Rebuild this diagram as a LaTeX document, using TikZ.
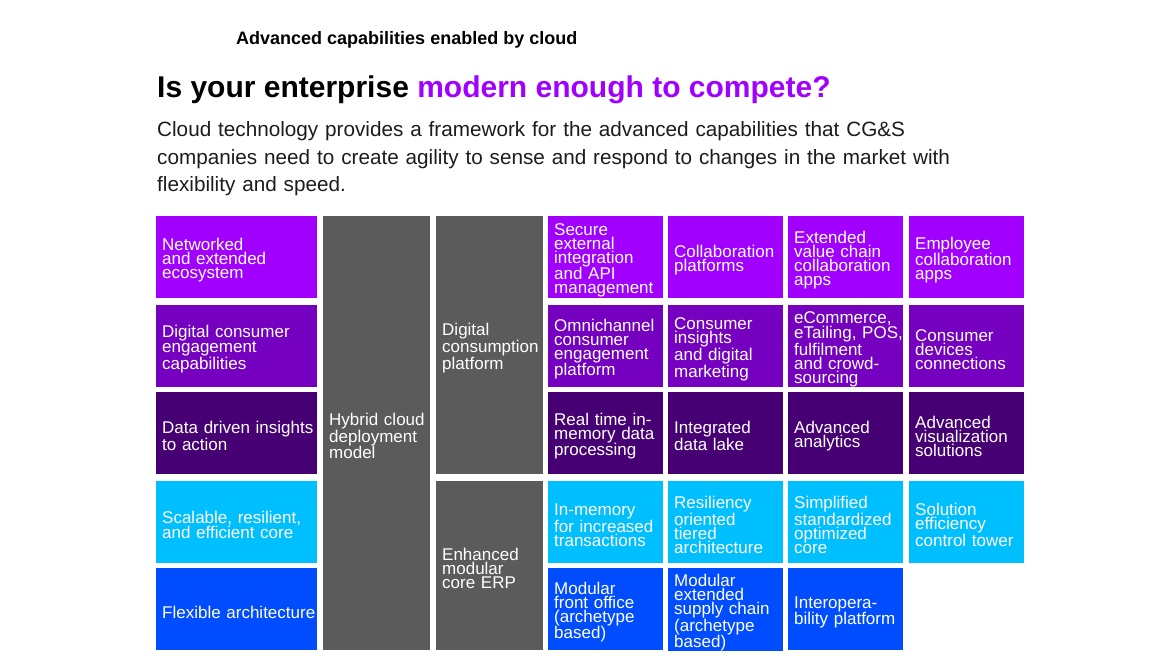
\documentclass[tikz,border=0pt]{standalone}
\usepackage{fontspec}
\setmainfont{Liberation Sans}
\hyphenpenalty=10000
\exhyphenpenalty=10000

\definecolor{brightpurple}{HTML}{A100FF}
\definecolor{midpurple}{HTML}{7500C0}
\definecolor{deeppurple}{HTML}{460073}
\definecolor{skyblue}{HTML}{00BFFF}
\definecolor{royalblue}{HTML}{004DFF}
\definecolor{slate}{HTML}{5B5B5B}
\definecolor{inktext}{HTML}{1C1C1C}

\begin{document}
\begin{tikzpicture}[x=1pt, y=-1pt,
  cell/.style={rectangle, anchor=north west, inner xsep=6pt, inner ysep=0pt,
    minimum width=115pt, minimum height=82pt, text width=103pt, align=left,
    text height=18pt, text=white, font=\fontsize{17}{14}\selectfont,
    execute at begin node={\rightskip=-10pt plus 1fil}},
  wide/.style={minimum width=161pt, text width=149pt},
  pillar/.style={cell, fill=slate, minimum width=107pt, text width=95pt}]

  \path[use as bounding box, fill=white] (0,0) rectangle (1173,666);

  % Titles
  \node[anchor=base west, inner sep=0pt, font=\bfseries\fontsize{18}{18}\selectfont] (kicker) at (236,45) {Advanced capabilities enabled by cloud};
  \node[anchor=base west, inner sep=0pt, font=\bfseries\fontsize{30}{30}\selectfont] (heading) at (157,98) {Is your enterprise \textcolor{brightpurple}{modern enough to compete?}};
  \node[anchor=base west, inner sep=0pt, text width=840pt, align=left, text=inktext, font=\fontsize{20.7}{27.5}\selectfont] (intro) at (157,137)
    {Cloud technology provides a framework for the advanced capabilities that CG\&S\\companies need to create agility to sense and respond to changes in the market with\\flexibility and speed.};

  % Pillars
  \node[pillar, minimum height=434pt] (hybrid) at (323,216) {Hybrid cloud\\deployment\\model};
  \node[pillar, minimum height=258pt] (consumption) at (436,216) {Digital\\consumption\\platform};
  \node[pillar, minimum height=169pt] (erp) at (436,481) {Enhanced\\modular\\core ERP};

  % Row 1
  \node[cell, wide, fill=brightpurple] (ecosystem) at (156,216) {Networked\\and extended\\ecosystem};
  \node[cell, fill=brightpurple] (secureapi) at (548,216) {Secure\\external\\integration\\and API\\management};
  \node[cell, fill=brightpurple] (collabplat) at (668,216) {Collaboration\\platforms};
  \node[cell, fill=brightpurple] (valuechain) at (788,216) {Extended\\value chain\\collaboration\\apps};
  \node[cell, fill=brightpurple] (employee) at (909,216) {Employee\\collaboration\\apps};

  % Row 2
  \node[cell, wide, fill=midpurple] (engagement) at (156,305) {Digital consumer\\engagement\\capabilities};
  \node[cell, fill=midpurple] (omnichannel) at (548,305) {Omnichannel\\consumer\\engagement\\platform};
  \node[cell, fill=midpurple] (insights) at (668,305) {Consumer\\insights\\and digital\\marketing};
  \node[cell, fill=midpurple] (ecommerce) at (788,305) {eCommerce,\\eTailing, POS,\\fulfilment\\and crowd-\\sourcing};
  \node[cell, fill=midpurple] (devices) at (909,305) {Consumer\\devices\\connections};

  % Row 3
  \node[cell, wide, fill=deeppurple] (datadriven) at (156,392) {Data driven insights\\to action};
  \node[cell, fill=deeppurple] (realtime) at (548,392) {Real time in-\\memory data\\processing};
  \node[cell, fill=deeppurple] (datalake) at (668,392) {Integrated\\data lake};
  \node[cell, fill=deeppurple] (analytics) at (788,392) {Advanced\\analytics};
  \node[cell, fill=deeppurple] (visual) at (909,392) {Advanced\\visualization\\solutions};

  % Row 4
  \node[cell, wide, fill=skyblue] (scalable) at (156,481) {Scalable, resilient,\\and efficient core};
  \node[cell, fill=skyblue] (inmemory) at (548,481) {In-memory\\for increased\\transactions};
  \node[cell, fill=skyblue] (tiered) at (668,481) {Resiliency\\oriented\\tiered\\architecture};
  \node[cell, fill=skyblue] (simplified) at (788,481) {Simplified\\standardized\\optimized\\core};
  \node[cell, fill=skyblue] (tower) at (909,481) {Solution\\efficiency\\control tower};

  % Row 5
  \node[cell, wide, fill=royalblue] (flexible) at (156,568) {Flexible architecture};
  \node[cell, fill=royalblue] (frontoffice) at (548,568) {Modular\\front office\\(archetype\\based)};
  \node[cell, fill=royalblue] (supplychain) at (668,568) {Modular\\extended\\supply chain\\(archetype\\based)};
  \node[cell, fill=royalblue] (interop) at (788,568) {Interopera-\\bility platform};
\end{tikzpicture}
\end{document}
